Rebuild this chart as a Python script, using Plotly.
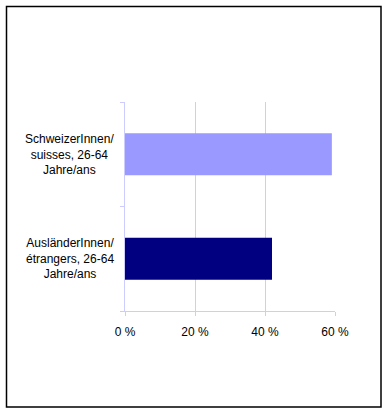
import plotly.graph_objects as go

categories = ["AusländerInnen/<br>étrangers, 26-64<br>Jahre/ans", "SchweizerInnen/<br>suisses, 26-64<br>Jahre/ans"]
values = [0.42, 0.591]
bar_colors = ["#000080", "#9999ff"]
tick_vals = [0, 0.2, 0.4, 0.6]
tick_text = ["0 %", "20 %", "40 %", "60 %"]

W, H = 388, 414
L, R, T, B = 125, 53, 102, 103
pw = W - L - R
ph = H - T - B

def px_x(x):
    return (x - L) / pw

def px_y(y):
    return (H - B - y) / ph

fig = go.Figure()
fig.add_trace(go.Bar(
    x=values, y=[0, 1], orientation="h",
    marker=dict(color=bar_colors, line=dict(width=0)),
    width=0.4, hoverinfo="skip",
))

for i, c in enumerate(categories):
    fig.add_annotation(
        x=px_x(116), xref="paper", y=i, yref="y",
        text=c, showarrow=False, xanchor="right", yanchor="middle",
        align="center", font=dict(size=12, color="#000000"),
    )

fig.add_shape(type="rect", xref="paper", yref="paper",
              x0=px_x(6.5), x1=px_x(381), y0=px_y(407), y1=px_y(6.5),
              line=dict(color="#000000", width=1.5), fillcolor="rgba(0,0,0,0)", layer="above")

fig.update_layout(
    width=W, height=H,
    margin=dict(l=L, r=R, t=T, b=B),
    paper_bgcolor="#ffffff", plot_bgcolor="#ffffff",
    font=dict(family="Liberation Sans, Arial, sans-serif", size=12, color="#000000"),
    showlegend=False,
    xaxis=dict(
        range=[0, 0.6], tickvals=tick_vals, ticktext=tick_text,
        showgrid=True, gridcolor="#ccccff", gridwidth=1,
        showline=True, linecolor="#ccccff", linewidth=1,
        ticks="outside", ticklen=4, tickcolor="#ccccff",
        zeroline=False, ticklabelstandoff=6,
        tickfont=dict(size=12, color="#000000"), fixedrange=True,
    ),
    yaxis=dict(
        range=[-0.5, 1.5], tickvals=[-0.5, 0.5, 1.5], showticklabels=False,
        showgrid=False, showline=True, linecolor="#ccccff", linewidth=1,
        ticks="outside", ticklen=4, tickcolor="#ccccff",
        zeroline=False, fixedrange=True,
    ),
)

fig.write_html(
    "out.html",
    config={"displayModeBar": False},
    post_script="document.body.style.margin='0';document.body.style.overflow='hidden';",
)
